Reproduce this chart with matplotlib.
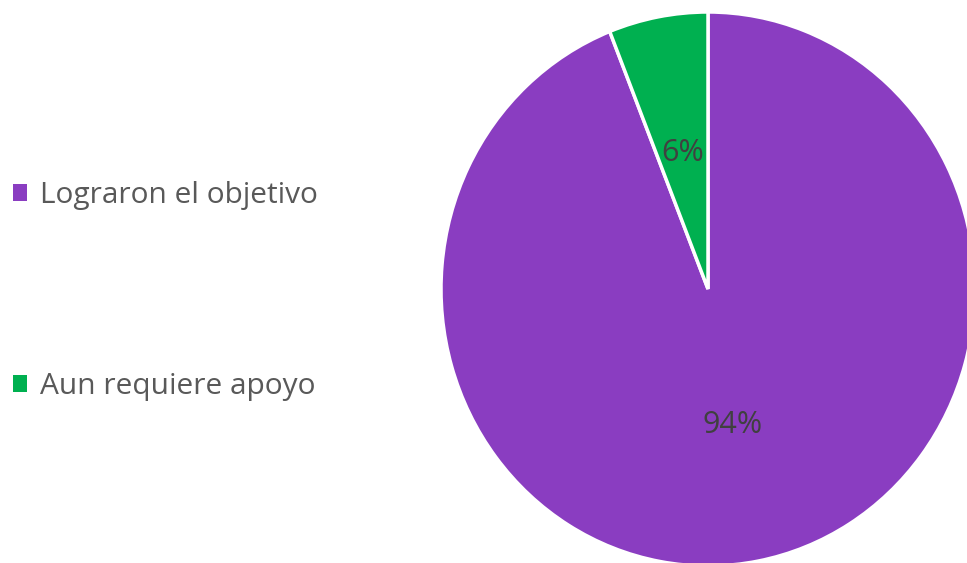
import matplotlib.pyplot as plt
from matplotlib.patches import Patch

labels = ["Lograron el objetivo", "Aun requiere apoyo"]
values = [94, 6]
colors = ["#8A3DC1", "#00B050"]

fig = plt.figure(figsize=(9.67, 5.63), dpi=100)
W, H = 967, 563

# pie area in pixels: left 441, right 975, top 12, bottom 563
left, right, top, bottom = 441, 975, 12, 566
ax = fig.add_axes([left / W, 1 - bottom / H, (right - left) / W, (bottom - top) / H])

wedges, texts, autotexts = ax.pie(
    values, colors=colors, startangle=90, counterclock=False,
    autopct="%1.0f%%", pctdistance=0.5, radius=1,
    wedgeprops=dict(edgecolor="white", linewidth=2.5),
    textprops=dict(color="#404040", fontsize=22, family="Open Sans"),
)
ax.set_aspect("auto")
ax.set_xlim(-1, 1)
ax.set_ylim(-1, 1)
ax.axis("off")

handles = [Patch(facecolor=c, edgecolor="none") for c in colors]
fig.legend(handles, labels, loc="center left", bbox_to_anchor=(13 / W, 0.4831),
           frameon=False, labelspacing=5.43, borderpad=0, borderaxespad=0,
           handlelength=0.47, handleheight=0.47, handletextpad=0.45,
           prop=dict(family="Open Sans", size=21.5), labelcolor="#595959")

fig.savefig("out.png", dpi=100)
